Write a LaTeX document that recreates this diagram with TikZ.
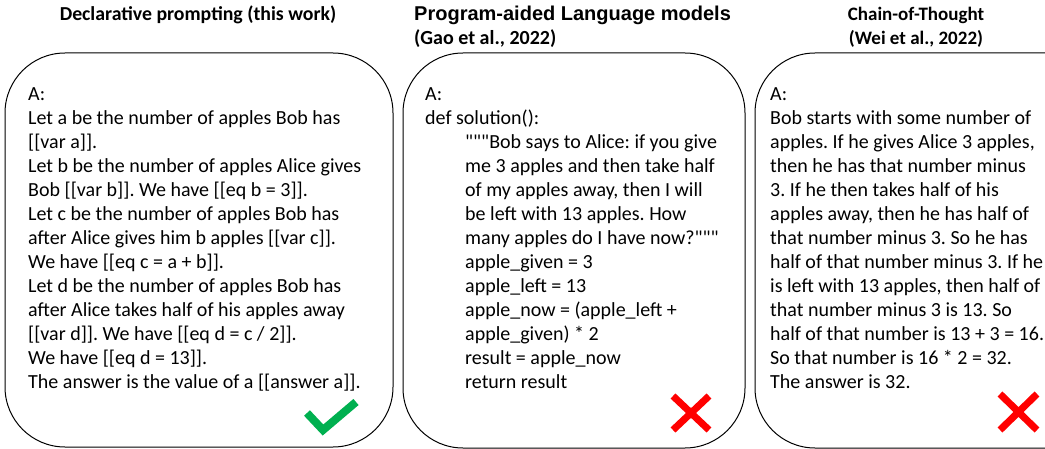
\documentclass[tikz,border=0pt]{standalone}
\usepackage{fontspec}
\setmainfont{Carlito}[Ligatures=TeXOff]
\newfontfamily\arialf{Liberation Sans}
\definecolor{okgreen}{RGB}{0,176,80}
\definecolor{badred}{RGB}{255,0,0}
\newcommand{\qqq}{"""}
\begin{document}
\frenchspacing
\begin{tikzpicture}[x=1pt,y=-1pt,
  panel/.style={draw=black, line width=1pt, rounded corners=60pt},
  body/.style={anchor=north west, align=left, inner sep=0pt, font=\fontsize{20}{24}\selectfont},
  ttl/.style={inner sep=0pt, font=\fontsize{19.8}{22}\selectfont\bfseries},
  okmark/.style={draw=okgreen, line width=8pt},
  badmark/.style={draw=badred, line width=7pt}]
\useasboundingbox (0,0) rectangle (1045,449);
\clip (0,0) rectangle (1045,449);
% titles
\node[ttl] (t1) at (198,15) {Declarative prompting (this work)};
\node[inner sep=0pt, anchor=west, font=\arialf\fontsize{20}{24}\selectfont\bfseries] (t2a) at (414,15) {Program-aided Language models};
\node[ttl, anchor=west, font=\fontsize{20}{22}\selectfont\bfseries] (t2b) at (414,39) {(Gao et al., 2022)};
\node[ttl, align=center, font=\fontsize{19}{24}\selectfont\bfseries] (t3) at (916,27) {Chain-of-Thought\\(Wei et al., 2022)};
% panels
\draw[panel] (5,53) rectangle (393,447);
\draw[panel] (403,53) rectangle (745,448);
\draw[panel] (755,53) rectangle (1110,448);
% bodies
\node[body] (b1) at (28,87) {A:\\
Let a be the number of apples Bob has\\{}[[var a]].\\
Let b be the number of apples Alice gives\\
Bob [[var b]]. We have [[eq b = 3]].\\
Let c be the number of apples Bob has\\
after Alice gives him b apples [[var c]].\\
We have [[eq c = a + b]].\\
Let d be the number of apples Bob has\\
after Alice takes half of his apples away\\{}[[var d]]. We have [[eq d = c / 2]].\\
We have [[eq d = 13]].\\
The answer is the value of a [[answer a]].};
\node[body] (b2) at (425,87) {A:\\
def solution():\\
\hspace*{40pt}\qqq Bob says to Alice: if you give\\
\hspace*{40pt}me 3 apples and then take half\\
\hspace*{40pt}of my apples away, then I will\\
\hspace*{40pt}be left with 13 apples. How\\
\hspace*{40pt}many apples do I have now?\qqq\\
\hspace*{40pt}apple\_given = 3\\
\hspace*{40pt}apple\_left = 13\\
\hspace*{40pt}apple\_now = (apple\_left +\\
\hspace*{40pt}apple\_given) * 2\\
\hspace*{40pt}result = apple\_now\\
\hspace*{40pt}return result};
\node[body] (b3) at (770,87) {A:\\
Bob starts with some number of\\
apples. If he gives Alice 3 apples,\\
then he has that number minus\\
3. If he then takes half of his\\
apples away, then he has half of\\
that number minus 3. So he has\\
half of that number minus 3. If he\\
is left with 13 apples, then half of\\
that number minus 3 is 13. So\\
half of that number is 13 + 3 = 16.\\
So that number is 16 * 2 = 32.\\
The answer is 32.};
% marks
\draw[okmark] (307,413) -- (323,430) -- (356,402);
\draw[badmark] (673,396) -- (709,430) (673,430) -- (709,396);
\draw[badmark] (1000,394) -- (1037,430) (1000,430) -- (1037,394);
\end{tikzpicture}
\end{document}
